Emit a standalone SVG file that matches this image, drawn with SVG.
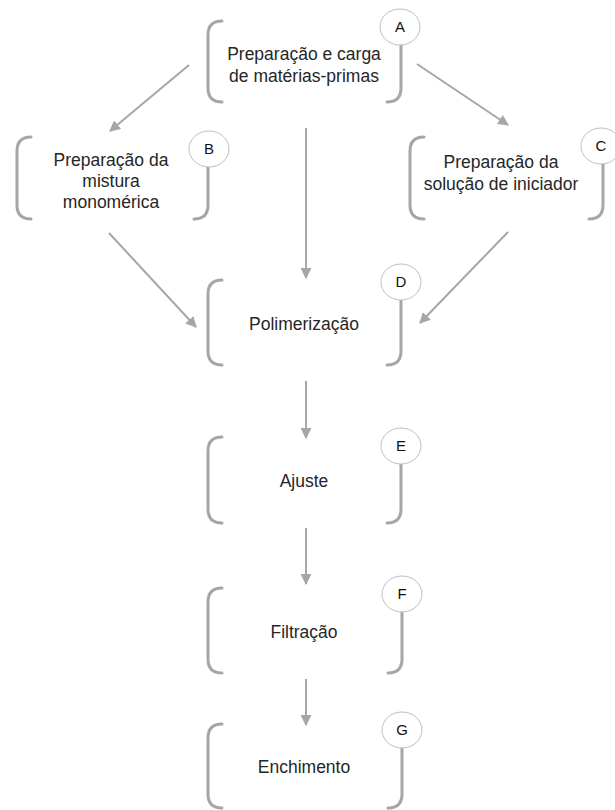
<svg xmlns="http://www.w3.org/2000/svg" width="615" height="810" viewBox="0 0 615 810">
<defs>
<marker id="ah" viewBox="0 0 10 10" refX="9" refY="5" markerWidth="5.5" markerHeight="5.5" orient="auto" markerUnits="strokeWidth">
<path d="M0,0 L10,5 L0,10 z" fill="#a6a6a6"/>
</marker>
<style>
.br{fill:none;stroke:#a6a6a6;stroke-width:3;stroke-linecap:round}
.bd{fill:#fff;stroke:#bfbfbf;stroke-width:1}
.t{font-family:"Liberation Sans",Arial,sans-serif;font-size:17.5px;fill:#262626;text-anchor:middle}
.l{font-family:"Liberation Sans",Arial,sans-serif;font-size:15px;fill:#111;text-anchor:middle}
.c{fill:none;stroke:#a6a6a6;stroke-width:2;marker-end:url(#ah)}
</style>
</defs>
<rect width="615" height="810" fill="#fff"/>
<g id="connectors">
<line class="c" x1="189" y1="65" x2="110" y2="131"/>
<line class="c" x1="417" y1="64" x2="508" y2="125"/>
<line class="c" x1="306" y1="128" x2="306" y2="278"/>
<line class="c" x1="109" y1="233" x2="196" y2="327"/>
<line class="c" x1="508" y1="232" x2="420" y2="323"/>
<line class="c" x1="306" y1="381" x2="306" y2="438"/>
<line class="c" x1="306" y1="528" x2="306" y2="584"/>
<line class="c" x1="306" y1="679" x2="306" y2="725"/>
</g>
<g id="A">
<path class="br" d="M222,21 Q208,21 208,35 L208,88 Q208,102 222,102"/>
<path class="br" d="M401,44 L401,88 Q401,102 387,102"/>
<ellipse class="bd" cx="400" cy="27" rx="20" ry="18"/>
<text class="l" x="400" y="32">A</text>
<text class="t" x="304" y="60">Preparação e carga</text>
<text class="t" x="304" y="82">de matérias-primas</text>
</g>
<g id="B">
<path class="br" d="M31,137 Q17,137 17,151 L17,205 Q17,219 31,219"/>
<path class="br" d="M208,166 L208,205 Q208,219 194,219"/>
<ellipse class="bd" cx="209" cy="149" rx="20" ry="18"/>
<text class="l" x="209" y="154">B</text>
<text class="t" x="111" y="166">Preparação da</text>
<text class="t" x="111" y="187">mistura</text>
<text class="t" x="111" y="208">monomérica</text>
</g>
<g id="C">
<path class="br" d="M424,137 Q410,137 410,151 L410,205 Q410,219 424,219"/>
<path class="br" d="M603,163 L603,205 Q603,219 589,219"/>
<ellipse class="bd" cx="601" cy="146" rx="20" ry="18"/>
<text class="l" x="601" y="151">C</text>
<text class="t" x="501" y="168">Preparação da</text>
<text class="t" x="501" y="190">solução de iniciador</text>
</g>
<g id="D">
<path class="br" d="M222,280 Q208,280 208,294 L208,351 Q208,365 222,365"/>
<path class="br" d="M401,299 L401,351 Q401,365 387,365"/>
<ellipse class="bd" cx="401" cy="282" rx="20" ry="18"/>
<text class="l" x="401" y="287">D</text>
<text class="t" x="304" y="330">Polimerização</text>
</g>
<g id="E">
<path class="br" d="M222,437 Q208,437 208,451 L208,509 Q208,523 222,523"/>
<path class="br" d="M401,463 L401,509 Q401,523 387,523"/>
<ellipse class="bd" cx="401" cy="446" rx="20" ry="18"/>
<text class="l" x="401" y="451">E</text>
<text class="t" x="304" y="487">Ajuste</text>
</g>
<g id="F">
<path class="br" d="M222,588 Q208,588 208,602 L208,659 Q208,673 222,673"/>
<path class="br" d="M402,611 L402,659 Q402,673 388,673"/>
<ellipse class="bd" cx="402" cy="594" rx="20" ry="18"/>
<text class="l" x="402" y="599">F</text>
<text class="t" x="304" y="638">Filtração</text>
</g>
<g id="G">
<path class="br" d="M222,724 Q208,724 208,738 L208,794 Q208,808 222,808"/>
<path class="br" d="M402,747 L402,794 Q402,808 388,808"/>
<ellipse class="bd" cx="402" cy="730" rx="20" ry="18"/>
<text class="l" x="402" y="735">G</text>
<text class="t" x="304" y="773">Enchimento</text>
</g>
</svg>
